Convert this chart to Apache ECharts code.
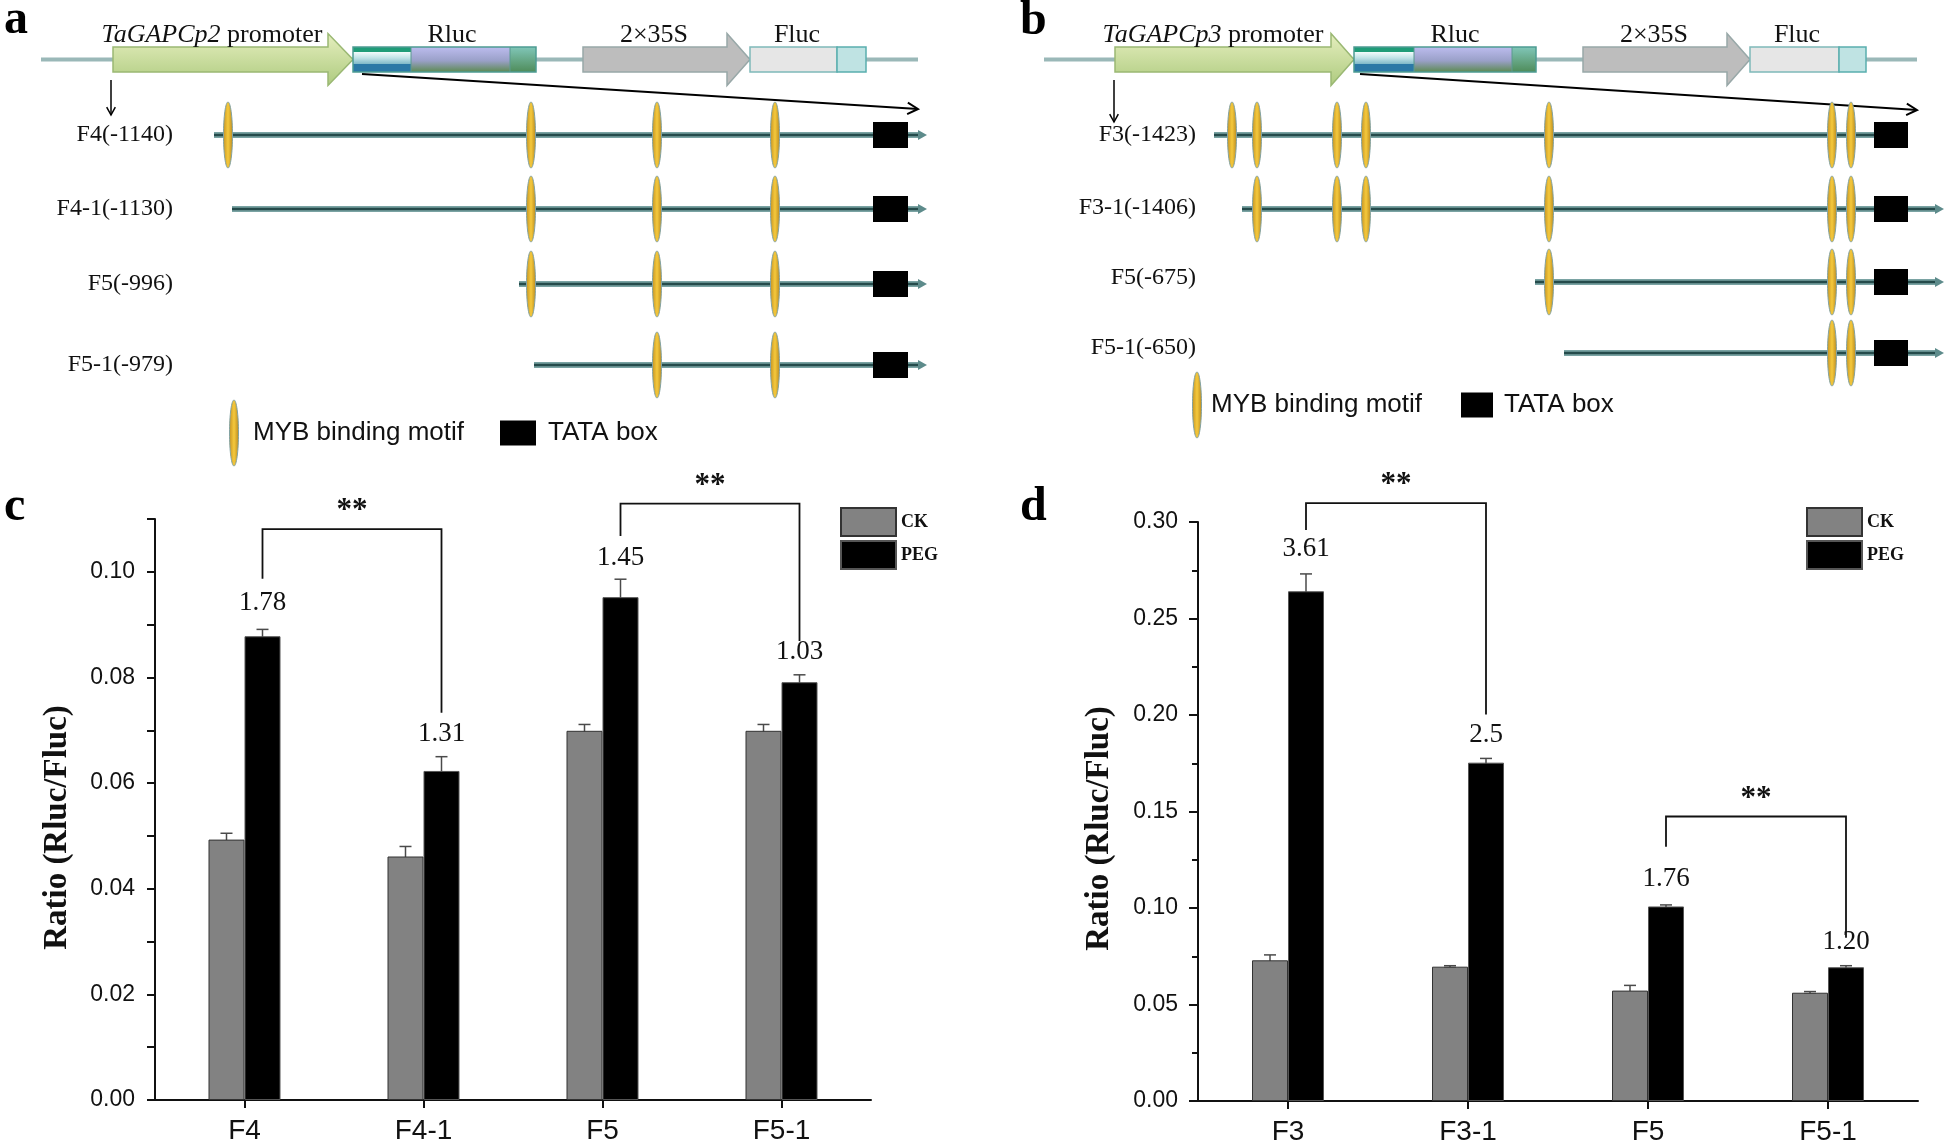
<!DOCTYPE html>
<html><head><meta charset="utf-8">
<script src="https://cdn.jsdelivr.net/npm/echarts@6/dist/echarts.min.js"></script>
<style>html,body{margin:0;padding:0;background:#fff}#c{width:1946px;height:1148px}</style>
</head><body><div id="c"></div>
<script>
// ===== DATA =====
// panel c
const categoriesC = ['F4', 'F4-1', 'F5', 'F5-1'];
const ckC = [0.0493, 0.0461, 0.0699, 0.0699];
const ckErrC = [0.0012, 0.0019, 0.0012, 0.0012];
const pegC = [0.0878, 0.0623, 0.0952, 0.0791];
const pegErrC = [0.0013, 0.0027, 0.0034, 0.0014];
const foldC = ['1.78', '1.31', '1.45', '1.03'];
const foldPosC = [0.0941, 0.0694, 0.1027, 0.0848];
const bracketsC = [[0, 1, 0.0987, 0.1081, 0.0733], [2, 3, 0.1068, 0.1129, 0.0869]];
const starPosC = [0.1116, 0.1163];
// panel d
const categoriesD = ['F3', 'F3-1', 'F5', 'F5-1'];
const ckD = [0.0729, 0.0696, 0.0572, 0.0561];
const ckErrD = [0.0028, 0.0005, 0.0027, 0.0006];
const pegD = [0.2641, 0.1753, 0.1008, 0.0693];
const pegErrD = [0.0090, 0.0022, 0.0008, 0.0008];
const foldD = ['3.61', '2.5', '1.76', '1.20'];
const foldPosD = [0.2859, 0.1896, 0.1149, 0.0824];
const bracketsD = [[0, 1, 0.2959, 0.3098, 0.2002], [2, 3, 0.1317, 0.1474, 0.0846]];
const starPosD = [0.319, 0.1565];
// panel a (schematic positions)
const rowLabelsA = ['F4(-1140)', 'F4-1(-1130)', 'F5(-996)', 'F5-1(-979)'];
const rowStartA = [214, 232, 519, 534];
const motifsA = [[228, 531, 657, 775], [531, 657, 775], [531, 657, 775], [657, 775]];
const rowArrowA = [true, true, true, true];
// panel b (schematic positions)
const rowLabelsB = ['F3(-1423)', 'F3-1(-1406)', 'F5(-675)', 'F5-1(-650)'];
const rowStartB = [241, 269, 562, 591];
const motifsB = [[259, 284, 364, 393, 576, 859, 878], [284, 364, 393, 576, 859, 878], [576, 859, 878], [859, 878]];
const rowArrowB = [false, true, true, true];

// ===== LAYOUT =====
const layoutA = {
  promoterName: 'TaGAPCp2',
  backbone: [41, 918], y: 59.5, promoter: [113, 328, 353], rluc: [353, 411, 510, 536],
  s35: [583, 727, 750], fluc: [750, 837, 866],
  labelY: 35, promoterLabelX: 212, rlucX: 452, s35X: 654, flucX: 797,
  down: [111, 80, 115], diag: [362, 74, 918, 109],
  rowY: [135, 209, 284, 365], rowLabelY: [135, 209, 284, 365], rowLabelRight: 173, rowEnd: 918, tata: [873, 908],
  legendY: 433, legEll: 234, legText: 253, legBox: [500, 536], legBoxText: 548
};
const layoutB = {
  promoterName: 'TaGAPCp3',
  backbone: [71, 944], y: 59.5, promoter: [142, 358, 381], rluc: [381, 441, 539, 563],
  s35: [610, 754, 777], fluc: [777, 866, 893],
  labelY: 35, promoterLabelX: 240, rlucX: 482, s35X: 681, flucX: 824,
  down: [141, 80, 122], diag: [387, 74, 944, 110],
  rowY: [135, 209, 282, 353], rowLabelY: [135, 208, 278, 348], rowLabelRight: 223, rowEnd: 962, tata: [901, 935],
  legendY: 405, legEll: 224, legText: 238, legBox: [488, 520], legBoxText: 531
};
const BAR_W = 36;
const SERIF = 'Liberation Serif';
const SANS = 'Liberation Sans';
const G = echarts.graphic;

function gold() {
  return new G.LinearGradient(0, 0, 1, 0, [
    {offset: 0, color: '#c39020'}, {offset: 0.5, color: '#f5c93c'}, {offset: 1, color: '#b8871c'}]);
}

function diagramRender(L, rowLabels, rowStart, motifs, rowArrow) {
  return function (params, api) {
    const P = (x, y) => api.coord([x, y]);
    const ch = [];
    const line = (x1, y1, x2, y2, stroke, w) => {
      const a = P(x1, y1), b = P(x2, y2);
      ch.push({type: 'line', shape: {x1: a[0], y1: a[1], x2: b[0], y2: b[1]}, style: {stroke: stroke, lineWidth: w}});
    };
    const rect = (x1, y1, x2, y2, style) => {
      const a = P(x1, y1), b = P(x2, y2);
      ch.push({type: 'rect', shape: {x: a[0], y: a[1], width: b[0] - a[0], height: b[1] - a[1]}, style: style});
    };
    const text = (x, y, t, style) => {
      const a = P(x, y);
      ch.push({type: 'text', x: a[0], y: a[1], style: Object.assign({text: t, fill: '#111'}, style)});
    };
    const arrowPoly = (x0, xh, xt, yc, hb, hh) =>
      [P(x0, yc - hb), P(xh, yc - hb), P(xh, yc - hh), P(xt, yc), P(xh, yc + hh), P(xh, yc + hb), P(x0, yc + hb)];
    const chevron = (x1, y1, x2, y2, len, w) => {
      const ang = Math.atan2(y2 - y1, x2 - x1);
      const p1 = [x2 - len * Math.cos(ang - 0.5), y2 - len * Math.sin(ang - 0.5)];
      const p2 = [x2 - len * Math.cos(ang + 0.5), y2 - len * Math.sin(ang + 0.5)];
      ch.push({type: 'polyline', shape: {points: [P(p1[0], p1[1]), P(x2, y2), P(p2[0], p2[1])]},
        style: {stroke: '#000', lineWidth: w, fill: null}});
    };
    const yc = L.y, hb = 12.5, hh = 26;
    // backbone
    line(L.backbone[0], yc, L.backbone[1], yc, '#9ab8b8', 4);
    // promoter arrow
    ch.push({type: 'polygon', shape: {points: arrowPoly(L.promoter[0], L.promoter[1], L.promoter[2], yc, hb, hh)},
      style: {fill: new G.LinearGradient(0, 0, 0, 1, [{offset: 0, color: '#e6efbf'}, {offset: 1, color: '#adca7e'}]),
        stroke: '#9ab873', lineWidth: 1.5}});
    // Rluc
    const r = L.rluc;
    rect(r[0], yc - hb, r[1], yc - hb + 5, {fill: '#1f9c78'});
    rect(r[0], yc - hb + 5, r[1], yc + hb - 8, {fill: new G.LinearGradient(0, 0, 0, 1, [{offset: 0, color: '#f2fbfb'}, {offset: 0.5, color: '#bfe2e6'}, {offset: 1, color: '#7fb8c8'}])});
    rect(r[0], yc + hb - 8, r[1], yc + hb, {fill: '#2b78a6'});
    rect(r[1], yc - hb, r[2], yc + hb, {fill: new G.LinearGradient(0, 0, 0, 1, [{offset: 0, color: '#bcbcee'}, {offset: 0.55, color: '#9aa0c8'}, {offset: 1, color: '#5c8a52'}])});
    rect(r[2], yc - hb, r[3], yc + hb, {fill: new G.LinearGradient(0, 0, 0, 1, [{offset: 0, color: '#80c6b8'}, {offset: 1, color: '#4f8c5a'}])});
    rect(r[0], yc - hb, r[3], yc + hb, {fill: null, stroke: '#4d9c92', lineWidth: 1.5});
    line(r[1], yc - hb, r[1], yc + hb, '#5a9a90', 1);
    line(r[2], yc - hb, r[2], yc + hb, '#5a9a90', 1);
    // 2x35S arrow
    ch.push({type: 'polygon', shape: {points: arrowPoly(L.s35[0], L.s35[1], L.s35[2], yc, hb, hh)},
      style: {fill: '#bdbdbd', stroke: '#98a8a8', lineWidth: 1.5}});
    // Fluc
    rect(L.fluc[0], yc - hb, L.fluc[1], yc + hb, {fill: '#e6e6e6', stroke: '#7fb9b9', lineWidth: 1.5});
    rect(L.fluc[1], yc - hb, L.fluc[2], yc + hb, {fill: '#bfe3e3', stroke: '#5aaeae', lineWidth: 1.5});
    // construct labels
    const lab = {fontFamily: SERIF, fontSize: 26, align: 'center', verticalAlign: 'middle', textAlign: 'center', textVerticalAlign: 'middle'};
    text(L.promoterLabelX, L.labelY, '{i|' + L.promoterName + '} promoter',
      Object.assign({}, lab, {rich: {i: {fontStyle: 'italic', fontFamily: SERIF, fontSize: 26, fill: '#111'}}}));
    text(L.rlucX, L.labelY, 'Rluc', lab);
    text(L.s35X, L.labelY, '2×35S', lab);
    text(L.flucX, L.labelY, 'Fluc', lab);
    // arrows
    line(L.down[0], L.down[1], L.down[0], L.down[2], '#000', 1.5);
    chevron(L.down[0], L.down[1], L.down[0], L.down[2], 9, 1.5);
    line(L.diag[0], L.diag[1], L.diag[2], L.diag[3], '#000', 2);
    chevron(L.diag[0], L.diag[1], L.diag[2], L.diag[3], 12, 2);
    // rows
    rowLabels.forEach((name, i) => {
      const y = L.rowY[i];
      text(L.rowLabelRight, L.rowLabelY[i], name, {fontFamily: SERIF, fontSize: 24, align: 'right', textAlign: 'right', verticalAlign: 'middle', textVerticalAlign: 'middle'});
      const xe = rowArrow[i] ? L.rowEnd : L.tata[0];
      line(rowStart[i], y, xe, y, '#7aa3a3', 6);
      line(rowStart[i], y, xe, y, '#254b4b', 2.5);
      if (rowArrow[i]) {
        ch.push({type: 'polygon', shape: {points: [P(xe, y - 5), P(xe + 9, y), P(xe, y + 5)]}, style: {fill: '#5d8b8b'}});
      }
      rect(L.tata[0], y - 13, L.tata[1], y + 13, {fill: '#000'});
      motifs[i].forEach(mx => {
        const c = P(mx, y);
        ch.push({type: 'ellipse', shape: {cx: c[0], cy: c[1], rx: 4.5, ry: 33}, style: {fill: gold(), stroke: '#83a3a3', lineWidth: 1}});
      });
    });
    // legend
    const lc = P(L.legEll, L.legendY);
    ch.push({type: 'ellipse', shape: {cx: lc[0], cy: lc[1], rx: 4.5, ry: 33}, style: {fill: gold(), stroke: '#83a3a3', lineWidth: 1}});
    const legTxt = {fontFamily: SANS, fontSize: 26, align: 'left', textAlign: 'left', verticalAlign: 'middle', textVerticalAlign: 'middle'};
    text(L.legText, L.legendY, 'MYB binding motif', legTxt);
    rect(L.legBox[0], L.legendY - 12.5, L.legBox[1], L.legendY + 12.5, {fill: '#000'});
    text(L.legBoxText, L.legendY, 'TATA box', legTxt);
    return {type: 'group', children: ch};
  };
}

function errRender(params, api) {
  const cat = api.value(0), v = api.value(1), e = api.value(2), side = api.value(3);
  const t = api.coord([cat, v + e]), b = api.coord([cat, v - e]);
  const x = t[0] + side * BAR_W / 2;
  const st = {stroke: '#4a4a4a', lineWidth: 1.5};
  return {type: 'group', children: [
    {type: 'line', shape: {x1: x, y1: t[1], x2: x, y2: b[1]}, style: st},
    {type: 'line', shape: {x1: x - 6, y1: t[1], x2: x + 6, y2: t[1]}, style: st},
    {type: 'line', shape: {x1: x - 6, y1: b[1], x2: x + 6, y2: b[1]}, style: st}
  ]};
}

function foldRender(labels) {
  return function (params, api) {
    const p = api.coord([api.value(0), api.value(1)]);
    return {type: 'text', x: p[0] + BAR_W / 2, y: p[1],
      style: {text: labels[params.dataIndex], fontFamily: SERIF, fontSize: 27, fill: '#111',
        align: 'center', textAlign: 'center', verticalAlign: 'middle', textVerticalAlign: 'middle'}};
  };
}

function bracketRender(stars) {
  return function (params, api) {
    const l = api.value(0), r = api.value(1);
    const lb = api.coord([l, api.value(2)]), tl = api.coord([l, api.value(3)]);
    const tr = api.coord([r, api.value(3)]), rb = api.coord([r, api.value(4)]);
    const xl = lb[0] + BAR_W / 2, xr = rb[0] + BAR_W / 2;
    const sp = api.coord([l, stars[params.dataIndex]]);
    return {type: 'group', children: [
      {type: 'polyline', shape: {points: [[xl, lb[1]], [xl, tl[1]], [xr, tr[1]], [xr, rb[1]]]},
        style: {stroke: '#111', lineWidth: 1.8, fill: null}},
      {type: 'text', x: (xl + xr) / 2, y: sp[1],
        style: {text: '**', fontFamily: SERIF, fontWeight: 'bold', fontSize: 31, fill: '#111',
          align: 'center', textAlign: 'center', verticalAlign: 'middle', textVerticalAlign: 'middle'}}
    ]};
  };
}

const chart = echarts.init(document.getElementById('c'), null, {renderer: 'canvas', width: 1946, height: 1148});

const axisLineStyle = {show: true, lineStyle: {color: '#111', width: 2}};
const diagX = i => ({type: 'value', gridIndex: i, min: 0, max: 973, show: false});
const diagY = i => ({type: 'value', gridIndex: i, min: 0, max: 480, inverse: true, show: false});
const catAxis = (i, cats) => ({
  type: 'category', gridIndex: i, data: cats,
  axisLine: axisLineStyle,
  axisTick: {show: true, alignWithLabel: true, length: 8, lineStyle: {color: '#111', width: 2}},
  axisLabel: {fontFamily: SANS, fontSize: 28, color: '#111', margin: 17}
});
const nameStyle = pad => ({fontFamily: SERIF, fontWeight: 'bold', fontSize: 33, color: '#111', padding: pad});

const legendCommon = {
  data: ['CK', 'PEG'], orient: 'vertical', itemWidth: 55, itemHeight: 28, itemGap: 3, padding: 0,
  icon: 'rect', selectedMode: false,
  textStyle: {fontFamily: SERIF, fontWeight: 'bold', fontSize: 18, color: '#111'}
};

const option = {
  backgroundColor: '#fff',
  animation: false,
  grid: [
    {left: 0, top: 0, width: 973, height: 480},
    {left: 973, top: 0, width: 973, height: 480},
    {left: 155, top: 519, width: 716, height: 581},
    {left: 1198, top: 522, width: 720, height: 579}
  ],
  xAxis: [diagX(0), diagX(1), catAxis(2, categoriesC), catAxis(3, categoriesD)],
  yAxis: [diagY(0), diagY(1),
    {type: 'value', gridIndex: 2, min: 0, max: 0.11, interval: 0.01,
      axisLine: axisLineStyle, splitLine: {show: false},
      axisTick: {show: true, length: 8, lineStyle: {color: '#111', width: 2}},
      axisLabel: {fontFamily: SANS, fontSize: 23, color: '#111', margin: 20,
        formatter: v => (Math.round(v * 100) % 2 === 0 ? v.toFixed(2) : '')},
      name: 'Ratio (Rluc/Fluc)', nameLocation: 'middle', nameGap: 81, nameTextStyle: nameStyle([0, 36, 0, 0])},
    {type: 'value', gridIndex: 3, min: 0, max: 0.30, interval: 0.05,
      axisLine: axisLineStyle, splitLine: {show: false},
      axisTick: {show: true, length: 9, lineStyle: {color: '#111', width: 2}},
      minorTick: {show: true, splitNumber: 2, length: 6, lineStyle: {color: '#111', width: 2}},
      axisLabel: {fontFamily: SANS, fontSize: 23, color: '#111', margin: 20, formatter: v => v.toFixed(2)},
      name: 'Ratio (Rluc/Fluc)', nameLocation: 'middle', nameGap: 82, nameTextStyle: nameStyle([0, 34, 0, 0])}
  ],
  legend: [
    Object.assign({left: 840, top: 507}, legendCommon),
    Object.assign({left: 1806, top: 507}, legendCommon)
  ],
  graphic: [
    {type: 'text', x: 4, y: 21, style: {text: 'a', font: 'bold 48px "Liberation Serif"', fill: '#000', verticalAlign: 'middle', textVerticalAlign: 'middle'}},
    {type: 'text', x: 1020, y: 22, style: {text: 'b', font: 'bold 48px "Liberation Serif"', fill: '#000', verticalAlign: 'middle', textVerticalAlign: 'middle'}},
    {type: 'text', x: 4, y: 508, style: {text: 'c', font: 'bold 48px "Liberation Serif"', fill: '#000', verticalAlign: 'middle', textVerticalAlign: 'middle'}},
    {type: 'text', x: 1020, y: 508, style: {text: 'd', font: 'bold 48px "Liberation Serif"', fill: '#000', verticalAlign: 'middle', textVerticalAlign: 'middle'}}
  ],
  series: [
    {type: 'custom', name: 'diagramA', xAxisIndex: 0, yAxisIndex: 0, data: [[0, 0]], silent: true,
      renderItem: diagramRender(layoutA, rowLabelsA, rowStartA, motifsA, rowArrowA)},
    {type: 'custom', name: 'diagramB', xAxisIndex: 1, yAxisIndex: 1, data: [[0, 0]], silent: true,
      renderItem: diagramRender(layoutB, rowLabelsB, rowStartB, motifsB, rowArrowB)},
    // panel c
    {type: 'bar', name: 'CK', xAxisIndex: 2, yAxisIndex: 2, data: ckC, barWidth: BAR_W, barGap: '0%',
      itemStyle: {color: '#828282', borderColor: '#333', borderWidth: 1}},
    {type: 'bar', name: 'PEG', xAxisIndex: 2, yAxisIndex: 2, data: pegC, barWidth: BAR_W, barGap: '0%',
      itemStyle: {color: '#000', borderColor: '#555', borderWidth: 1}},
    {type: 'custom', xAxisIndex: 2, yAxisIndex: 2, renderItem: errRender, silent: true,
      data: ckC.map((v, i) => [i, v, ckErrC[i], -1]).concat(pegC.map((v, i) => [i, v, pegErrC[i], 1]))},
    {type: 'custom', xAxisIndex: 2, yAxisIndex: 2, renderItem: foldRender(foldC), silent: true,
      data: foldPosC.map((v, i) => [i, v])},
    {type: 'custom', xAxisIndex: 2, yAxisIndex: 2, renderItem: bracketRender(starPosC), silent: true,
      data: bracketsC},
    // panel d
    {type: 'bar', name: 'CK', xAxisIndex: 3, yAxisIndex: 3, data: ckD, barWidth: BAR_W, barGap: '0%',
      itemStyle: {color: '#828282', borderColor: '#333', borderWidth: 1}},
    {type: 'bar', name: 'PEG', xAxisIndex: 3, yAxisIndex: 3, data: pegD, barWidth: BAR_W, barGap: '0%',
      itemStyle: {color: '#000', borderColor: '#555', borderWidth: 1}},
    {type: 'custom', xAxisIndex: 3, yAxisIndex: 3, renderItem: errRender, silent: true,
      data: ckD.map((v, i) => [i, v, ckErrD[i], -1]).concat(pegD.map((v, i) => [i, v, pegErrD[i], 1]))},
    {type: 'custom', xAxisIndex: 3, yAxisIndex: 3, renderItem: foldRender(foldD), silent: true,
      data: foldPosD.map((v, i) => [i, v])},
    {type: 'custom', xAxisIndex: 3, yAxisIndex: 3, renderItem: bracketRender(starPosD), silent: true,
      data: bracketsD}
  ]
};
chart.setOption(option);
</script>
</body></html>
